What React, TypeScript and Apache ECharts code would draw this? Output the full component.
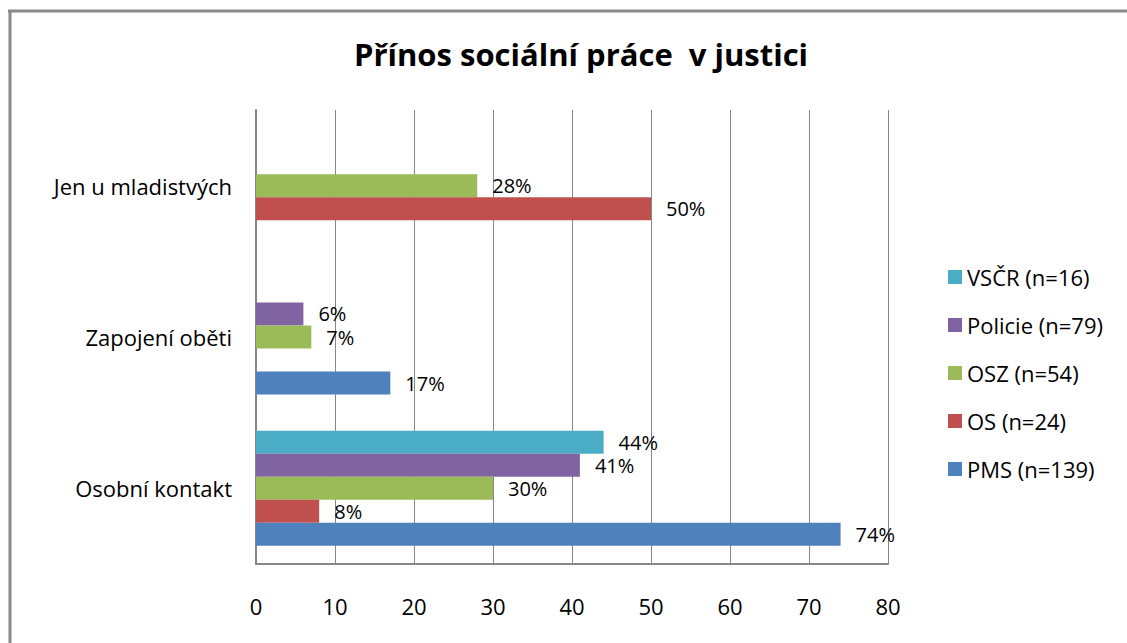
import React, { useEffect, useRef } from "react";
import * as echarts from "echarts";

const categories = ["Osobní kontakt", "Zapojení oběti", "Jen u mladistvých"];
const seriesNames = ["VSČR (n=16)", "Policie (n=79)", "OSZ (n=54)", "OS (n=24)", "PMS (n=139)"];
const vscrValues = [44, null, null];
const policieValues = [41, 6, null];
const oszValues = [30, 7, 28];
const osValues = [8, null, 50];
const pmsValues = [74, 17, null];
const xTicks = { min: 0, max: 80, interval: 10 };
const colors = ["#4BACC6", "#8064A2", "#9BBB59", "#C0504D", "#4F81BD"];

const FONT = "Open Sans";
const FS = 22;

export default function App() {
  const ref = useRef<HTMLDivElement>(null);
  useEffect(() => {
    if (!ref.current) return;
    const chart = echarts.init(ref.current, null, { renderer: "svg" });
    const allValues = [vscrValues, policieValues, oszValues, osValues, pmsValues];
    chart.setOption({
      animation: false,
      backgroundColor: "#ffffff",
      textStyle: { fontFamily: FONT },
      title: {
        text: "Přínos sociální práce  v justici",
        left: 576,
        textAlign: "center",
        top: 33,
        textStyle: { fontFamily: FONT, fontSize: 31, fontWeight: "bold", color: "#000" },
      },
      graphic: [
        { type: "line", shape: { x1: 8, y1: 11, x2: 1127, y2: 11 }, style: { stroke: "#898989", lineWidth: 3 } },
        { type: "line", shape: { x1: 10, y1: 10, x2: 10, y2: 643 }, style: { stroke: "#898989", lineWidth: 3 } },
      ],
      legend: {
        orient: "vertical",
        left: 943,
        top: 260,
        data: seriesNames,
        itemWidth: 14,
        itemHeight: 14,
        itemGap: 24,
        itemStyle: { borderWidth: 0 },
        icon: "rect",
        textStyle: { fontFamily: FONT, fontSize: FS, color: "#000", lineHeight: 24 },
      },
      grid: { left: 256, right: 239, top: 110, bottom: 79, containLabel: false },
      xAxis: {
        type: "value",
        min: xTicks.min,
        max: xTicks.max,
        interval: xTicks.interval,
        axisLine: { show: true, lineStyle: { color: "#868686", width: 2 } },
        axisTick: { show: false },
        splitLine: { show: true, lineStyle: { color: "#868686", width: 1 } },
        axisLabel: { color: "#000", fontSize: FS, fontFamily: FONT, margin: 31 },
      },
      yAxis: {
        type: "category",
        data: categories,
        axisLine: { show: true, lineStyle: { color: "#868686", width: 2 } },
        axisTick: { show: false },
        axisLabel: { color: "#000", fontSize: FS, fontFamily: FONT, margin: 24 },
      },
      series: seriesNames.map((name, i) => ({
        name,
        type: "bar",
        data: allValues[i],
        barCategoryGap: "24%",
        barGap: "0%",
        itemStyle: { color: colors[i] },
        label: {
          show: true,
          position: "right",
          distance: 15,
          formatter: "{c}%",
          fontSize: 20,
          lineHeight: 20,
          fontFamily: FONT,
          color: "#000",
        },
      })),
    });
    return () => chart.dispose();
  }, []);
  return (
    <div
      ref={ref}
      style={{ position: "fixed", left: 0, top: 0, width: 1127, height: 643 }}
    />
  );
}
